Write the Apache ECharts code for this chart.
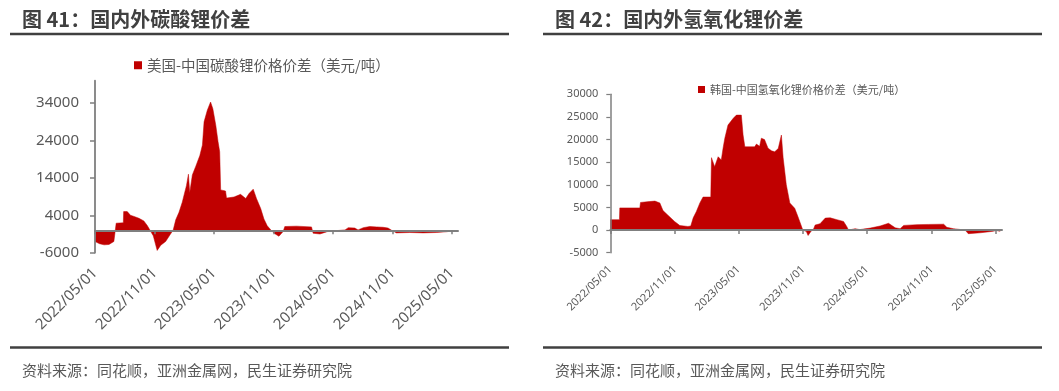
<!DOCTYPE html>
<html>
<head>
<meta charset="utf-8">
<script src="https://cdn.jsdelivr.net/npm/echarts@6/dist/echarts.min.js"></script>
<style>
html,body{margin:0;padding:0;background:#fff;}
#c{width:1059px;height:391px;}
</style>
</head>
<body>
<div id="c"></div>
<script>
// ---- Data ----
const carbDates = ['2022-05-01','2022-05-03','2022-05-15','2022-05-29','2022-06-13','2022-06-28','2022-07-04','2022-07-05','2022-07-27','2022-07-28','2022-08-08','2022-08-18','2022-08-29','2022-09-13','2022-09-28','2022-10-09','2022-10-17','2022-10-27','2022-11-08','2022-11-19','2022-12-04','2022-12-19','2022-12-27','2023-01-04','2023-01-14','2023-01-24','2023-02-06','2023-02-12','2023-02-16','2023-02-24','2023-03-06','2023-03-19','2023-03-27','2023-04-01','2023-04-11','2023-04-21','2023-04-28','2023-05-07','2023-05-14','2023-05-19','2023-05-22','2023-06-06','2023-06-09','2023-07-02','2023-07-22','2023-08-07','2023-08-17','2023-08-30','2023-09-09','2023-09-22','2023-10-02','2023-10-12','2023-10-22','2023-11-02','2023-11-17','2023-11-30','2023-12-05','2024-01-10','2024-02-25','2024-03-01','2024-03-22','2024-04-16','2024-05-12','2024-06-07','2024-06-17','2024-07-07','2024-07-17','2024-08-02','2024-08-22','2024-09-12','2024-10-02','2024-10-17','2024-10-28','2024-11-12','2024-12-23','2025-02-02','2025-03-15','2025-04-15','2025-04-30','2025-05-16'];
const carbValues = [-3000,-3100,-3600,-3900,-3800,-3000,-2500,1900,2000,5000,5000,4000,3700,3200,2500,1200,0,-1500,-5400,-4000,-3000,-1000,0,2800,4800,7500,12000,15000,10000,14800,17000,20000,22800,29000,32100,34300,32500,28100,23700,21000,10800,10500,8600,8900,9600,8500,9800,11000,8500,5800,3000,1200,200,-800,-1600,-300,1000,1100,900,-800,-1000,-300,-100,100,700,600,100,700,1000,900,800,600,0,-700,-600,-700,-600,-400,-200,-300];

const hydDates = ['2022-05-01','2022-05-27','2022-05-28','2022-07-24','2022-07-26','2022-08-20','2022-09-05','2022-09-19','2022-09-28','2022-10-12','2022-10-31','2022-11-15','2022-12-08','2022-12-16','2022-12-23','2023-01-01','2023-01-11','2023-01-20','2023-02-11','2023-02-13','2023-02-22','2023-03-04','2023-03-13','2023-03-18','2023-03-23','2023-04-01','2023-04-16','2023-04-25','2023-05-09','2023-05-14','2023-05-19','2023-06-16','2023-06-21','2023-06-30','2023-07-05','2023-07-14','2023-07-24','2023-08-03','2023-08-12','2023-08-22','2023-08-31','2023-09-05','2023-09-14','2023-09-24','2023-10-08','2023-10-17','2023-10-31','2023-11-10','2023-11-15','2023-11-24','2023-12-01','2023-12-05','2023-12-19','2024-01-03','2024-01-17','2024-02-05','2024-02-24','2024-03-04','2024-03-09','2024-03-28','2024-04-10','2024-05-10','2024-06-07','2024-07-01','2024-07-20','2024-08-03','2024-08-13','2024-09-20','2024-10-23','2024-12-05','2024-12-14','2025-01-02','2025-02-04','2025-02-13','2025-03-19','2025-04-21','2025-05-05','2025-05-15'];
const hydValues = [2300,2300,4900,4900,6100,6300,6400,6000,4300,3300,1900,1000,800,900,2700,4100,6000,7300,7300,16000,14000,16200,15500,18100,20300,23200,24700,25400,25400,21000,18400,18400,19000,18500,20300,20000,18100,17500,17300,18000,21000,16000,10000,6000,4800,3000,0,-300,-1200,-200,300,1100,1400,2650,2700,2300,1900,800,0,300,100,440,900,1500,500,300,1030,1200,1250,1300,600,300,0,-800,-600,-300,-100,-300];

const xTickDates = ['2022-05-01','2022-11-01','2023-05-01','2023-11-01','2024-05-01','2024-11-01','2025-05-01'];
const carbYTicks = [-6000,4000,14000,24000,34000];
const hydYTicks = [-5000,0,5000,10000,15000,20000,25000,30000];

const carbName = '美国-中国碳酸锂价格价差（美元/吨）';
const hydName = '韩国-中国氢氧化锂价格价差（美元/吨）';
const titles = ['图 41：国内外碳酸锂价差', '图 42：国内外氢氧化锂价差'];
const sourceText = '资料来源：同花顺，亚洲金属网，民生证券研究院';

// ---- helpers ----
function ts(s){const p=s.split('-').map(Number);return Date.UTC(p[0],p[1]-1,p[2]);}
function fmt(v){const d=new Date(v);const m=d.getUTCMonth()+1, dd=d.getUTCDate();return d.getUTCFullYear()+'/'+(m<10?'0':'')+m+'/'+(dd<10?'0':'')+dd;}
const xMin = ts('2022-05-01'), xMax = ts('2025-05-20');
const xTicks = xTickDates.map(ts);
const carbData = carbDates.map((d,i)=>[ts(d),carbValues[i]]);
const hydData = hydDates.map((d,i)=>[ts(d),hydValues[i]]);

const FONT = '"Noto Sans", "Noto Sans CJK SC", sans-serif';
const CJK = '"Noto Sans CJK SC", sans-serif';
const AX = '#7f7f7f';
const TXT = '#595959';
const RED = '#C00000';

function labelXAxis(grid, fs, margin){
  return {gridIndex:grid,type:'value',min:xMin,max:xMax,position:'bottom',
    axisLine:{show:false,onZero:false},axisTick:{show:false},splitLine:{show:false},
    axisLabel:{customValues:xTicks,formatter:fmt,rotate:45,fontSize:fs,color:TXT,margin:margin,fontFamily:FONT}};
}
function zeroXAxis(grid, yIdx){
  return {gridIndex:grid,type:'value',min:xMin,max:xMax,position:'top',z:5,
    axisLine:{show:true,onZero:true,onZeroAxisIndex:yIdx,lineStyle:{color:AX,width:2}},
    axisTick:{show:true,inside:true,length:4,customValues:xTicks,lineStyle:{color:AX,width:1.5}},
    axisLabel:{show:false},splitLine:{show:false}};
}
const plain = v => String(v);

const chart = echarts.init(document.getElementById('c'));
chart.setOption({
  animation:false,
  backgroundColor:'#fff',
  legend:[
    {data:[carbName],left:129,top:53,icon:'rect',itemWidth:8,itemHeight:8,itemGap:8,selectedMode:false,
     textStyle:{fontSize:14.5,color:TXT,fontFamily:CJK}},
    {data:[hydName],left:693,top:79,icon:'rect',itemWidth:7,itemHeight:7,selectedMode:false,
     textStyle:{fontSize:11,color:TXT,fontFamily:CJK}}
  ],
  grid:[
    {left:95,top:80.7,width:363,height:172},
    {left:610.3,top:94.3,width:391.7,height:158.4}
  ],
  xAxis:[labelXAxis(0,15,18), zeroXAxis(0,0), labelXAxis(1,11,15), zeroXAxis(1,1)],
  yAxis:[
    {gridIndex:0,type:'value',min:-6000,max:40000,splitLine:{show:false},z:5,
     axisLine:{show:true,onZero:false,lineStyle:{color:AX,width:1.8}},
     axisTick:{show:true,length:5,customValues:carbYTicks,lineStyle:{color:AX,width:1.5}},
     axisLabel:{customValues:carbYTicks,formatter:plain,fontSize:15,color:TXT,margin:16,fontFamily:FONT}},
    {gridIndex:1,type:'value',min:-5000,max:30000,interval:5000,splitLine:{show:false},z:5,
     axisLine:{show:true,onZero:false,lineStyle:{color:AX,width:1.5}},
     axisTick:{show:true,length:4,lineStyle:{color:AX,width:1.2}},
     axisLabel:{formatter:plain,fontSize:11,color:TXT,margin:12,fontFamily:FONT}}
  ],
  series:[
    {name:carbName,type:'line',xAxisIndex:0,yAxisIndex:0,data:carbData,symbol:'none',
     lineStyle:{width:0.5,color:RED},itemStyle:{color:RED},areaStyle:{color:RED,opacity:1},z:1},
    {name:hydName,type:'line',xAxisIndex:2,yAxisIndex:1,data:hydData,symbol:'none',
     lineStyle:{width:0.5,color:RED},itemStyle:{color:RED},areaStyle:{color:RED,opacity:1},z:1}
  ],
  graphic:[
    {type:'text',x:22,y:19.5,style:{text:titles[0],font:'bold 20px '+CJK,fill:'#404040',align:'left',verticalAlign:'middle'}},
    {type:'text',x:555,y:19.5,style:{text:titles[1],font:'bold 20px '+CJK,fill:'#404040',align:'left',verticalAlign:'middle'}},
    {type:'line',shape:{x1:10,y1:34,x2:509,y2:34},style:{stroke:'#404040',lineWidth:2.5}},
    {type:'line',shape:{x1:543,y1:34,x2:1042,y2:34},style:{stroke:'#404040',lineWidth:2.5}},
    {type:'line',shape:{x1:10,y1:347.5,x2:509,y2:347.5},style:{stroke:'#404040',lineWidth:2.5}},
    {type:'line',shape:{x1:543,y1:347.5,x2:1042,y2:347.5},style:{stroke:'#404040',lineWidth:2.5}},
    {type:'text',x:22,y:370.5,style:{text:sourceText,font:'15px '+CJK,fill:TXT,align:'left',verticalAlign:'middle'}},
    {type:'text',x:555,y:370.5,style:{text:sourceText,font:'15px '+CJK,fill:TXT,align:'left',verticalAlign:'middle'}}
  ]
});
</script>
</body>
</html>
